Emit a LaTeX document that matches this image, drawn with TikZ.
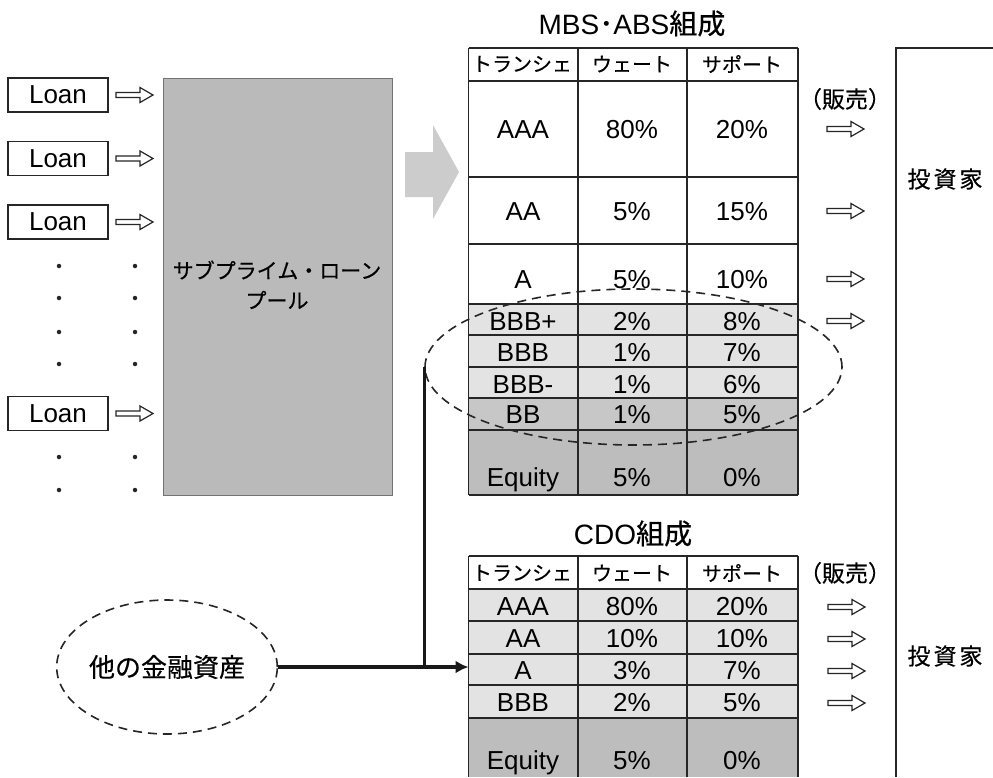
\documentclass[tikz,border=0pt]{standalone}
\usepackage{fontspec}
\setmainfont{Liberation Sans}
\newfontfamily\jpfont{Noto Sans CJK JP}[FakeBold=0.5]
\usetikzlibrary{arrows.meta,shapes.geometric}
\tikzset{
  lat/.style={font=\fontsize{26}{28}\selectfont, inner sep=0pt, text height=18.7pt, text depth=0pt},
  ttl/.style={font=\fontsize{28}{30}\selectfont, inner sep=0pt, text height=20pt, text depth=0pt},
  jpA/.style={font=\jpfont\fontsize{20}{22}\selectfont, inner sep=0pt},
  jpS/.style={font=\jpfont\fontsize{23}{26}\selectfont, inner sep=0pt},
  jpB/.style={font=\jpfont\fontsize{21}{24}\selectfont, inner sep=0pt},
  jpC/.style={font=\jpfont\fontsize{23}{26}\selectfont, inner sep=0pt},
  jpD/.style={font=\jpfont\fontsize{26}{28}\selectfont, inner sep=0pt},
  grid line/.style={line width=1.4pt, draw=black!85},
  loanbox/.style={draw=black!85, line width=1.3pt, minimum width=100pt, minimum height=34pt, inner sep=0pt, font=\fontsize{26}{28}\selectfont},
  smalldot/.style={circle, fill=black!85, inner sep=0pt, minimum size=4.5pt},
  dashell/.style={ellipse, draw=black!85, line width=1.6pt, dash pattern=on 9pt off 6pt, inner sep=0pt},
  feed/.style={line width=3.2pt, draw=black!90},
  hollowarrow/.pic={\draw[line width=1.2pt, draw=black!85, fill=white] (0,-2.5) -- (24,-2.5) -- (24,-7.5) -- (37,0) -- (24,7.5) -- (24,2.5) -- (0,2.5) -- cycle;},
}
\begin{document}
\begin{tikzpicture}[x=1pt,y=-1pt]
\useasboundingbox (0,0) rectangle (993,777);
\fill[white] (0,0) rectangle (993,777);

% Loans
\foreach \n/\y in {1/95, 2/158.5, 3/222, 4/413.5} {
  \node[loanbox] (loan\n) at (58,\y) {Loan};
  \path (116,\y) pic {hollowarrow};
}
\foreach \y [count=\k] in {266,298,332,364,457,490} {
  \node[smalldot] (dl\k) at (59,\y) {};
  \node[smalldot] (dr\k) at (135,\y) {};
}

% Pool
\node[draw=black!55, line width=0.8pt, fill=black!27, minimum width=229pt, minimum height=417pt, inner sep=0pt] (pool) at (277.5,286.5) {};
\node[jpB] (pooltxt1) at (277,270) {サブプライム・ローン};
\node[jpB] (pooltxt2) at (277,300) {プール};

% Big arrow
\fill[black!20] (405,152) -- (433,152) -- (433,125) -- (459,172) -- (433,219) -- (433,197) -- (405,197) -- cycle;

% MBS table
\node[ttl] (mbstitle) at (632,24) {MBS{\jpfont ･}ABS{\jpfont 組成}};
\foreach \t/\b/\c in {48/81/white,81/177/white,177/244/white,244/304/white,304/335/black!11,335/367/black!11,367/398/black!11,398/430/black!22,430/495/black!26}
  \fill[\c] (468.5,\t) rectangle (798,\b);
\foreach \yy in {48,81,177,244,304,335,367,398,430,495}
  \draw[grid line] (468.5,\yy) -- (798,\yy);
\foreach \xx in {468.5,578,687,798}
  \draw[grid line] (\xx,48) -- (\xx,495);
\node[jpA] (mh1) at (522,64) {トランシェ};
\node[jpA] (mh2) at (632,64) {ウェート};
\node[jpA] (mh3) at (742,64) {サポート};
\foreach \i/\y/\u/\v/\w in {1/129/AAA/80\%/20\%, 2/211/AA/5\%/15\%, 3/279/A/5\%/10\%, 4/321/BBB+/2\%/8\%, 5/352/BBB/1\%/7\%, 6/384/BBB-/1\%/6\%, 7/414/BB/1\%/5\%, 8/477/Equity/5\%/0\%} {
  \node[lat] (m\i a) at (523,\y) {\u};
  \node[lat] (m\i b) at (632,\y) {\v};
  \node[lat] (m\i c) at (742,\y) {\w};
}
\node[jpS] (msale) at (845,99) {（販売）};
\foreach \y in {129,211,279,321}
  \path (827,\y) pic {hollowarrow};

% Investors
\draw[grid line] (896,777) -- (896,48) -- (993,48);
\node[jpC] (inv1) at (945,179) {投\hspace{3pt}資\hspace{3pt}家};
\node[jpC] (inv2) at (945,656) {投\hspace{3pt}資\hspace{3pt}家};

% MBS dashed ellipse
\node[dashell, minimum width=417pt, minimum height=156pt] (mbsell) at (633.5,367) {};

% CDO table
\node[ttl] (cdotitle) at (633,534) {CDO{\jpfont 組成}};
\foreach \t/\b/\c in {556/589/white,589/621/black!11,621/654/black!11,654/685/black!11,685/718/black!11,718/777/black!26}
  \fill[\c] (468.5,\t) rectangle (798,\b);
\foreach \yy in {556,589,621,654,685,718}
  \draw[grid line] (468.5,\yy) -- (798,\yy);
\foreach \xx in {468.5,578,687,798}
  \draw[grid line] (\xx,556) -- (\xx,777);
\node[jpA] (ch1) at (522,573) {トランシェ};
\node[jpA] (ch2) at (632,573) {ウェート};
\node[jpA] (ch3) at (742,573) {サポート};
\foreach \i/\y/\u/\v/\w in {1/606/AAA/80\%/20\%, 2/638/AA/10\%/10\%, 3/670/A/3\%/7\%, 4/702/BBB/2\%/5\%, 5/760/Equity/5\%/0\%} {
  \node[lat] (c\i a) at (523,\y) {\u};
  \node[lat] (c\i b) at (632,\y) {\v};
  \node[lat] (c\i c) at (742,\y) {\w};
}
\node[jpS] (csale) at (845,573) {（販売）};
\foreach \y in {607,639,671,703}
  \path (828,\y) pic {hollowarrow};

% Other assets
\node[dashell, jpD, minimum width=218pt, minimum height=134pt] (other) at (167,667) {他の金融資産};
\coordinate (cdoin) at (468.5,667);
\draw[feed] (mbsell.west) -- (mbsell.west |- other.east);
\draw[feed, -{Latex[length=13pt,width=13pt]}] (other.east) -- (cdoin);
\end{tikzpicture}
\end{document}
